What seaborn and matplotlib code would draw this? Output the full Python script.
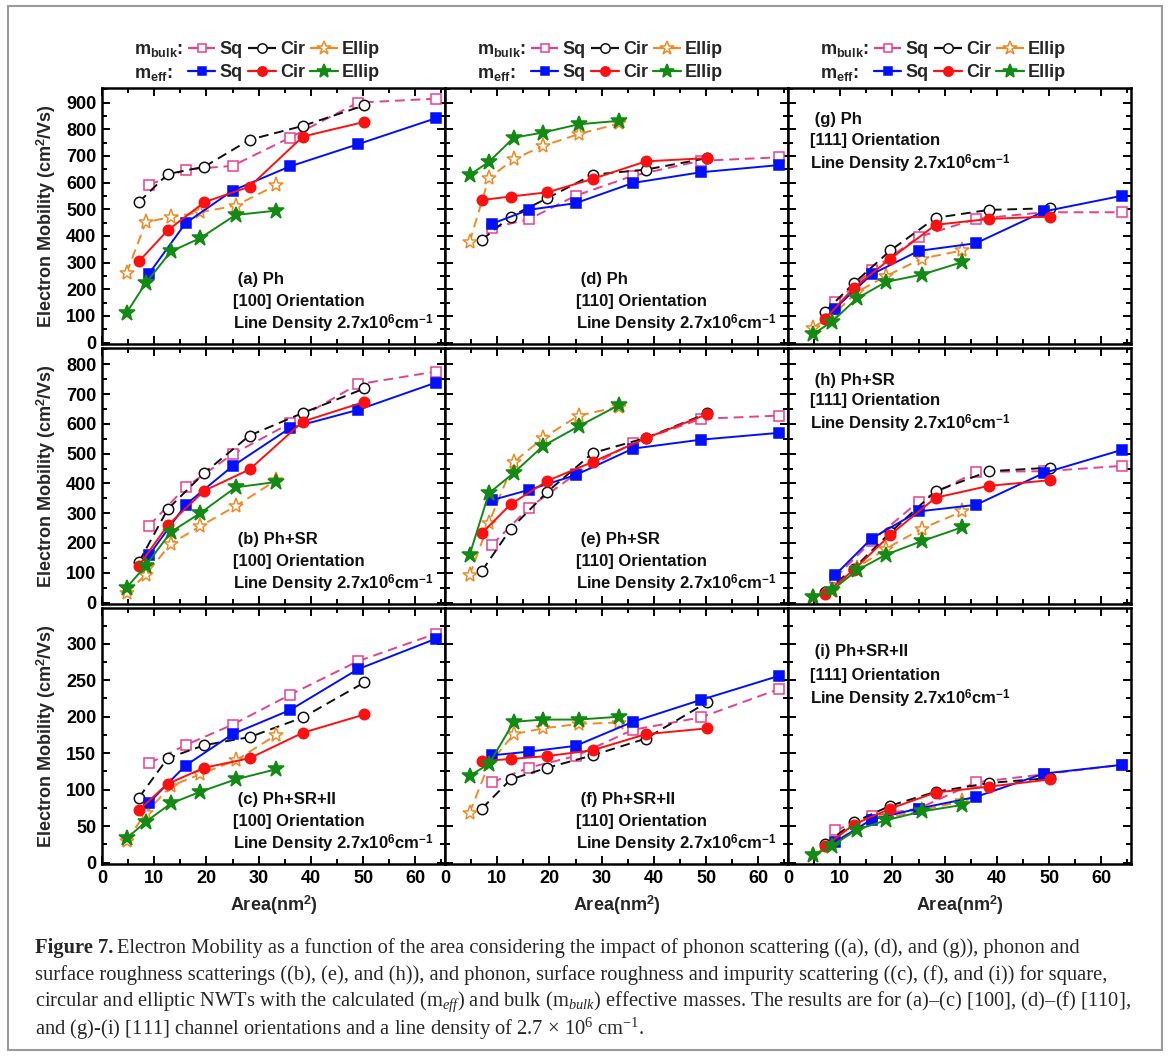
import numpy as np
import pandas as pd
import matplotlib
matplotlib.use("Agg")
import matplotlib.pyplot as plt
import seaborn as sns
from matplotlib.lines import Line2D
from matplotlib.patches import Rectangle
from matplotlib.ticker import MultipleLocator

sns.set_theme(style="white")
plt.rcParams['font.family'] = ['Liberation Sans', 'DejaVu Sans']
plt.rcParams['font.weight'] = 'bold'
plt.rcParams['mathtext.fontset'] = 'custom'
plt.rcParams['mathtext.rm'] = 'Liberation Serif:regular'
plt.rcParams['mathtext.it'] = 'Liberation Serif:italic:regular'
plt.rcParams['mathtext.bf'] = 'Liberation Sans:bold'
plt.rcParams['axes.linewidth'] = 1.8
plt.rcParams['axes.edgecolor'] = 'black'

# ---------------- data ----------------
# cross-section areas (nm^2)
area_sq = [9, 16, 25, 36, 49, 64]
area_cir = [7.07, 12.57, 19.63, 28.27, 38.48, 50.27]
area_ell = [4.7, 8.4, 13.2, 18.8, 25.6, 33.4]

# (a) Ph, [100]
a_bulk_sq = [591, 649, 663, 769, 900, 915]
a_bulk_cir = [527, 632, 660, 761, 813, 890]
a_bulk_ell = [261, 452, 471, 489, 514, 591]
a_eff_sq = [259, 448, 570, 661, 744, 842]
a_eff_cir = [305, 421, 527, 585, 773, 828]
a_eff_ell = [112, 224, 342, 392, 479, 495]
# (b) Ph+SR, [100]
b_bulk_sq = [258, 387, 498, 602, 733, 776]
b_bulk_cir = [136, 313, 436, 561, 637, 719]
b_bulk_ell = [31, 94, 198, 256, 324, 411]
b_eff_sq = [159, 328, 458, 586, 647, 739]
b_eff_cir = [124, 259, 376, 447, 608, 674]
b_eff_ell = [50, 124, 237, 300, 387, 405]
# (c) Ph+SR+II, [100]
c_bulk_sq = [136, 161, 189, 230, 276, 314]
c_bulk_cir = [89, 143, 161, 172, 199, 247]
c_bulk_ell = [30, 68, 105, 121, 140, 175]
c_eff_sq = [82, 133, 176, 209, 265, 307]
c_eff_cir = [72, 108, 130, 143, 178, 203]
c_eff_ell = [33, 56, 81, 97, 114, 128]
# (d) Ph, [110]
d_bulk_sq = [431, 462, 551, 626, 682, 695]
d_bulk_cir = [386, 473, 542, 630, 649, 692]
d_bulk_ell = [377, 617, 688, 738, 782, 822]
d_eff_sq = [446, 498, 523, 599, 639, 666]
d_eff_cir = [535, 548, 564, 614, 680, 692]
d_eff_ell = [629, 678, 769, 788, 819, 832]
# (e) Ph+SR, [110]
e_bulk_sq = [194, 317, 431, 536, 617, 628]
e_bulk_cir = [106, 247, 372, 502, 553, 636]
e_bulk_ell = [91, 267, 472, 553, 628, 658]
e_eff_sq = [344, 378, 428, 517, 547, 570]
e_eff_cir = [233, 330, 409, 472, 552, 633]
e_eff_ell = [159, 367, 436, 526, 592, 664]
# (f) Ph+SR+II, [110]
f_bulk_sq = [110, 130, 146, 182, 199, 238]
f_bulk_cir = [74, 114, 130, 147, 170, 220]
f_bulk_ell = [68, 135, 176, 184, 190, 192]
f_eff_sq = [147, 152, 160, 193, 223, 256]
f_eff_cir = [139, 142, 146, 154, 176, 184]
f_eff_ell = [119, 135, 193, 196, 196, 200]
# (g) Ph, [111]
g_bulk_sq = [151, 271, 396, 464, 489, 489]
g_bulk_cir = [116, 222, 346, 468, 498, 504]
g_bulk_ell = [56, 100, 190, 250, 315, 346]
g_eff_sq = [128, 256, 344, 373, 492, 551]
g_eff_cir = [88, 205, 315, 442, 464, 473]
g_eff_ell = [31, 78, 166, 228, 255, 302]
# (h) Ph+SR, [111]
h_bulk_sq = [83, 206, 339, 439, 441, 459]
h_bulk_cir = [36, 114, 236, 374, 441, 453]
h_bulk_ell = [17, 39, 117, 181, 248, 306]
h_eff_sq = [92, 215, 306, 328, 435, 513]
h_eff_cir = [30, 109, 228, 352, 392, 411]
h_eff_ell = [19, 41, 108, 161, 206, 253]
# (i) Ph+SR+II, [111]
i_bulk_sq = [44, 64, 74, 110, 121, 134]
i_bulk_cir = [25, 55, 78, 97, 109, 116]
i_bulk_ell = [10, 25, 48, 61, 72, 84]
i_eff_sq = [28, 59, 74, 90, 122, 134]
i_eff_cir = [22, 52, 74, 96, 104, 114]
i_eff_ell = [10, 23, 45, 58, 70, 79]

panel_letters = [['a', 'd', 'g'], ['b', 'e', 'h'], ['c', 'f', 'i']]
scatter_labels = ['Ph', 'Ph+SR', 'Ph+SR+II']
orient_labels = ['[100]', '[110]', '[111]']
row_ylims = [(-5, 955), (-5, 855), (-2, 349)]
row_major = [100, 100, 50]
series_names = ['bulk_sq', 'bulk_cir', 'bulk_ell', 'eff_sq', 'eff_cir', 'eff_ell']
legend_names = ['Sq', 'Cir', 'Ellip']

g = globals()

# ---------------- styles ----------------
PINK = '#e8408f'
ORANGE = '#f08a24'
BLUE = '#0010ff'
RED = '#ff1010'
GREEN = '#138a13'
BLACK = '#111111'
dash = (0, (5, 3))
styles = {
    'bulk_sq': dict(color=PINK, ls=dash, marker='s', filled=False, ms=6.5),
    'bulk_cir': dict(color=BLACK, ls=dash, marker='o', filled=False, ms=7.5),
    'bulk_ell': dict(color=ORANGE, ls=dash, marker='*', filled=False, ms=11),
    'eff_sq': dict(color=BLUE, ls='-', marker='s', filled=True, ms=6.5),
    'eff_cir': dict(color=RED, ls='-', marker='o', filled=True, ms=7.5),
    'eff_ell': dict(color=GREEN, ls='-', marker='*', filled=True, ms=12),
}
xs_for = {'sq': area_sq, 'cir': area_cir, 'ell': area_ell}

W, H = 1170, 1056
fig = plt.figure(figsize=(W / 100, H / 100), dpi=100)
fig.patch.set_facecolor('white')

col_left = [102, 445, 788]
col_w = 343
row_top = [88, 348, 608]
row_h = 256

FS = 13
TFS = 12

axes = {}
for r in range(3):
    for c in range(3):
        L = panel_letters[r][c]
        ax = fig.add_axes([col_left[c] / W, 1 - (row_top[r] + row_h) / H, col_w / W, row_h / H])
        axes[(r, c)] = ax
        for name in series_names:
            st = styles[name]
            shape = name.split('_')[1]
            sns.lineplot(x=xs_for[shape], y=g[f'{L}_{name}'], ax=ax,
                         color=st['color'], linestyle=st['ls'], linewidth=1.4,
                         marker=st['marker'], markersize=st['ms'],
                         markerfacecolor=st['color'] if st['filled'] else 'white',
                         markeredgecolor=st['color'], markeredgewidth=1.1,
                         estimator=None, sort=False, legend=False)
        ax.set_xlim(0, 65.7)
        ax.set_ylim(*row_ylims[r])
        ax.xaxis.set_major_locator(MultipleLocator(10))
        ax.xaxis.set_minor_locator(MultipleLocator(5))
        ax.yaxis.set_major_locator(MultipleLocator(row_major[r]))
        ax.yaxis.set_minor_locator(MultipleLocator(row_major[r] / 2))
        ax.tick_params(which='both', direction='in', top=True, right=True,
                       bottom=True, left=True, width=1.4, colors='black',
                       labelsize=FS, pad=4)
        ax.tick_params(which='major', length=6)
        ax.tick_params(which='minor', length=3.5)
        for sp in ax.spines.values():
            sp.set_linewidth(1.8)
            sp.set_color('black')
        if c != 0:
            ax.set_yticklabels([])
            ax.set_ylabel('')
        else:
            ax.set_ylabel(r"Electron Mobility (cm$^{\mathbf{2}}$/Vs)", fontsize=FS,
                          fontweight='bold', labelpad=6)
        if r != 2:
            ax.set_xticklabels([])
            ax.set_xlabel('')
        else:
            ax.set_xlabel(r"Area(nm$^{\mathbf{2}}$)", fontsize=FS, fontweight='bold', labelpad=5)

        lines = [f" ({L}) {scatter_labels[r]}", f"{orient_labels[c]} Orientation",
                 r"Line Density 2.7x10$^{\mathbf{6}}$cm$^{\mathbf{-1}}$"]
        if c < 2:
            tx, tys = 0.382, [0.253, 0.167, 0.078]
        elif r < 2:
            tx, tys = 0.064, [0.875, 0.793, 0.703]
        else:
            tx, tys = 0.064, [0.832, 0.738, 0.645]
        for txt, ty in zip(lines, tys):
            ax.text(tx, ty, txt, transform=ax.transAxes, fontsize=TFS,
                    fontweight='bold', va='center', ha='left', color='#111111')

# ---------------- legends ----------------
def handle(name):
    st = styles[name]
    return Line2D([0], [0], color=st['color'], linestyle=st['ls'], linewidth=1.6,
                  marker=st['marker'], markersize=st['ms'] * 0.9,
                  markerfacecolor=st['color'] if st['filled'] else 'white',
                  markeredgecolor=st['color'], markeredgewidth=1.1)

blank = Line2D([0], [0], alpha=0)
for c in range(3):
    ax = axes[(0, c)]
    hs = [blank, blank]
    ls = [r"$\mathbf{m_{bulk}}$:", r"$\mathbf{m_{eff}}$:"]
    for shape, nm in zip(['sq', 'cir', 'ell'], legend_names):
        hs += [handle('bulk_' + shape), handle('eff_' + shape)]
        ls += [nm, nm]
    ax.legend(hs, ls, ncol=4, loc='lower left', bbox_to_anchor=(-0.02, 0.99),
              frameon=False, handlelength=1.5, handletextpad=0.25,
              columnspacing=0.3, labelspacing=0.35, borderaxespad=0.0,
              prop={'weight': 'bold', 'size': FS})

# ---------------- caption ----------------
cap_size = 14.8
cap_x = 35 / W
cap_ys = [948, 975, 1002, 1029]
t0 = fig.text(cap_x, 1 - cap_ys[0] / H, "Figure 7.", family='Liberation Serif',
              fontweight='bold', fontsize=cap_size, va='center', ha='left')
fig.canvas.draw()
bb = t0.get_window_extent(renderer=fig.canvas.get_renderer())
fig.text((bb.x1 + 4) / W, 1 - cap_ys[0] / H,
         "Electron Mobility as a function of the area considering the impact of phonon scattering ((a), (d), and (g)), phonon and",
         family='Liberation Serif', fontweight='normal', fontsize=cap_size, va='center', ha='left')
cap_rest = [
    "surface roughness scatterings ((b), (e), and (h)), and phonon, surface roughness and impurity scattering ((c), (f), and (i)) for square,",
    r"circular and elliptic NWTs with the calculated (m$_{eff}$) and bulk (m$_{bulk}$) effective masses. The results are for (a)–(c) [100], (d)–(f) [110],",
    r"and (g)-(i) [111] channel orientations and a line density of 2.7 $\times$ 10$^{6}$ cm$^{-1}$.",
]
for txt, yy in zip(cap_rest, cap_ys[1:]):
    fig.text(cap_x, 1 - yy / H, txt, family='Liberation Serif', fontweight='normal',
             fontsize=cap_size, va='center', ha='left')

# outer frame
fig.patches.append(Rectangle((8 / W, 6 / H), (1162 - 8) / W, (1050 - 6) / H,
                             transform=fig.transFigure, fill=False,
                             edgecolor='#9a9a9a', linewidth=1.5))

fig.savefig('out.png', dpi=100, facecolor='white')
